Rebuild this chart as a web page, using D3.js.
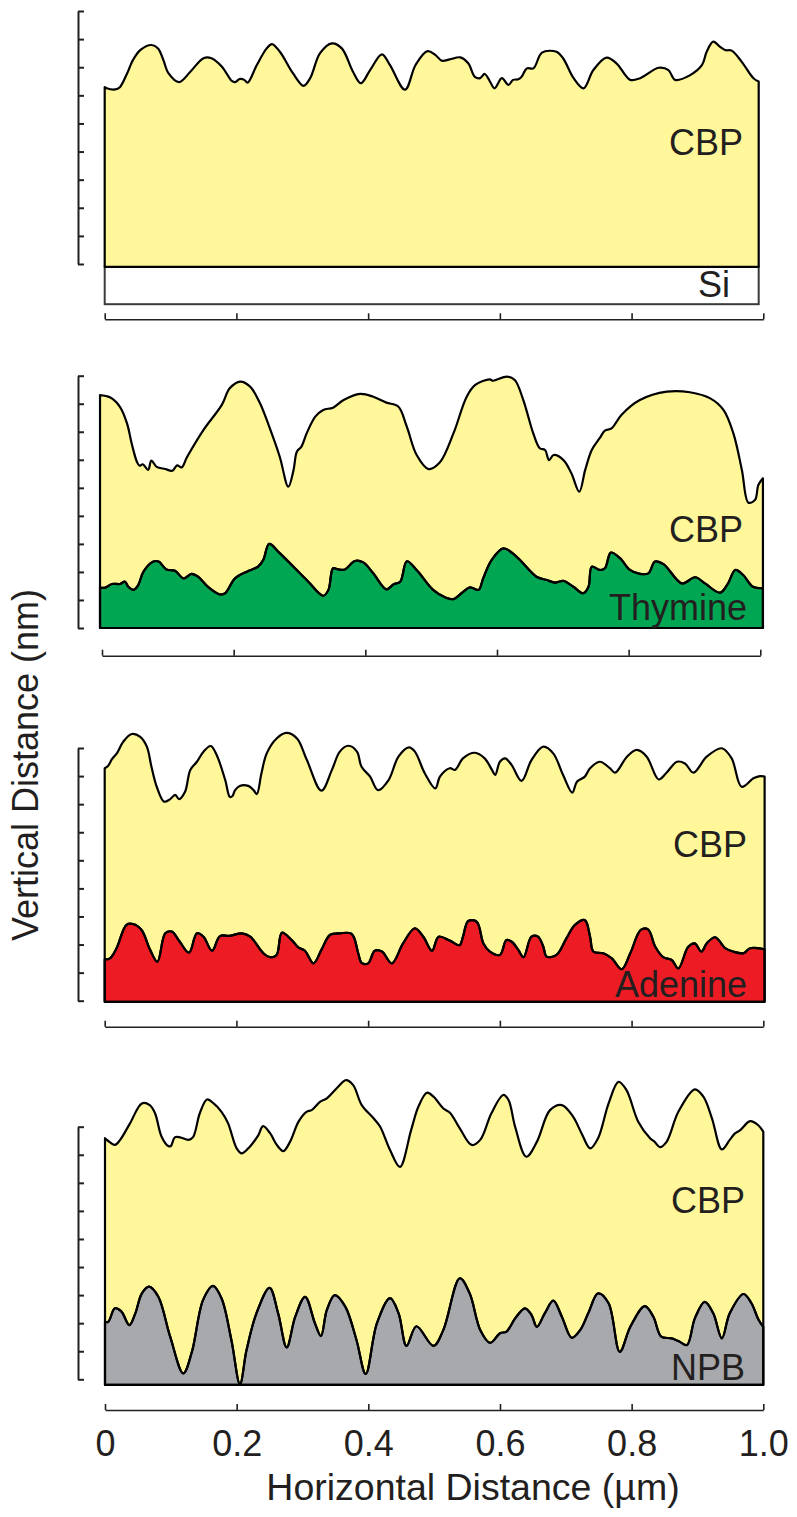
<!DOCTYPE html>
<html><head><meta charset="utf-8">
<script src="https://cdn.jsdelivr.net/npm/d3@7"></script>
<style>body{margin:0;background:#fff}svg{display:block}</style>
</head><body><svg id="c" width="797" height="1517"></svg>
<script>
// ---------- DATA ----------
const xTicks = [0, 0.2, 0.4, 0.6, 0.8, 1.0];
const xTickLabels = ["0", "0.2", "0.4", "0.6", "0.8", "1.0"];
const yTicks = [0, 1, 2, 3, 4, 5, 6, 7, 8, 9];
const layerNames = ["CBP", "Si", "Thymine", "Adenine", "NPB"];

// [horizontal distance (µm), vertical distance (nm)]
const cbpOnSi = [[0,6.29],[0.003,6.25],[0.016,6.21],[0.023,6.29],[0.034,6.78],[0.043,7.26],[0.054,7.61],[0.071,7.79],[0.081,7.67],[0.089,7.26],[0.097,6.78],[0.113,6.47],[0.130,6.84],[0.150,7.32],[0.162,7.32],[0.178,7.02],[0.193,6.51],[0.198,6.47],[0.205,6.58],[0.212,6.55],[0.217,6.45],[0.231,7.08],[0.246,7.67],[0.254,7.82],[0.266,7.55],[0.286,6.78],[0.302,6.34],[0.312,6.61],[0.327,7.50],[0.345,7.85],[0.360,7.67],[0.377,6.84],[0.389,6.43],[0.403,6.90],[0.421,7.46],[0.433,7.08],[0.456,6.20],[0.472,7.08],[0.490,7.57],[0.502,7.44],[0.512,7.23],[0.524,7.28],[0.540,7.35],[0.552,7.14],[0.562,6.66],[0.570,6.61],[0.577,6.76],[0.585,6.49],[0.592,6.25],[0.603,6.61],[0.613,6.37],[0.620,6.55],[0.628,6.57],[0.633,6.66],[0.641,6.96],[0.651,6.96],[0.664,7.52],[0.686,7.55],[0.696,7.32],[0.712,6.61],[0.727,6.25],[0.742,6.90],[0.762,7.34],[0.777,7.14],[0.798,6.55],[0.813,6.61],[0.841,6.98],[0.856,6.90],[0.866,6.55],[0.889,6.72],[0.907,7.08],[0.914,7.55],[0.924,7.91],[0.934,7.73],[0.942,7.61],[0.952,7.59],[0.967,7.20],[0.985,6.61],[0.993,6.49]];
const siLayer = [[0, -0.10], [0.993, -1.43]];

const cbpOnThymine = [[-0.003,8.31],[0.012,8.23],[0.027,7.90],[0.038,7.30],[0.045,6.59],[0.053,5.93],[0.057,5.79],[0.062,5.84],[0.070,5.64],[0.075,5.97],[0.083,5.75],[0.096,5.67],[0.107,5.61],[0.114,5.80],[0.121,5.73],[0.129,6.09],[0.154,7.06],[0.182,7.96],[0.194,8.55],[0.210,8.79],[0.225,8.61],[0.240,8.02],[0.255,7.12],[0.270,6.11],[0.283,5.04],[0.291,5.64],[0.296,6.29],[0.303,6.47],[0.311,6.95],[0.324,7.54],[0.336,7.78],[0.351,7.86],[0.367,8.13],[0.392,8.35],[0.412,8.25],[0.432,8.04],[0.450,7.90],[0.463,7.18],[0.478,6.17],[0.496,5.67],[0.513,5.90],[0.534,6.95],[0.554,8.25],[0.567,8.67],[0.589,8.87],[0.594,8.82],[0.615,8.97],[0.627,8.85],[0.640,8.13],[0.655,6.95],[0.665,6.41],[0.673,6.35],[0.679,5.99],[0.686,6.17],[0.701,5.99],[0.713,5.52],[0.725,4.86],[0.734,5.64],[0.744,6.35],[0.756,6.77],[0.764,7.04],[0.774,7.12],[0.789,7.60],[0.817,8.13],[0.858,8.43],[0.893,8.41],[0.924,8.19],[0.944,7.78],[0.959,6.95],[0.972,5.64],[0.982,4.47],[0.992,4.57],[0.997,5.10],[1.004,5.34]];
const thymine = [[-0.003,1.44],[0.005,1.44],[0.015,1.57],[0.027,1.57],[0.035,1.65],[0.040,1.47],[0.048,1.36],[0.055,1.53],[0.063,2.01],[0.078,2.37],[0.086,2.37],[0.098,2.09],[0.111,2.04],[0.124,1.77],[0.136,1.93],[0.146,1.83],[0.161,1.47],[0.179,1.20],[0.187,1.24],[0.202,1.77],[0.220,2.01],[0.237,2.19],[0.245,2.43],[0.254,3.00],[0.270,2.67],[0.311,1.71],[0.336,1.15],[0.344,1.36],[0.351,2.13],[0.359,2.09],[0.369,2.09],[0.384,2.39],[0.397,2.34],[0.412,1.95],[0.432,1.38],[0.443,1.56],[0.453,1.65],[0.463,2.38],[0.478,2.07],[0.503,1.36],[0.521,1.10],[0.534,1.03],[0.546,1.24],[0.559,1.45],[0.572,1.36],[0.579,1.77],[0.592,2.43],[0.610,2.84],[0.630,2.54],[0.660,1.83],[0.676,1.71],[0.688,1.62],[0.701,1.68],[0.716,1.47],[0.731,1.24],[0.739,1.47],[0.744,2.19],[0.756,2.07],[0.764,2.13],[0.773,2.69],[0.787,2.49],[0.802,2.07],[0.817,1.93],[0.830,1.95],[0.840,2.37],[0.853,2.28],[0.881,1.59],[0.901,1.81],[0.916,1.59],[0.939,1.26],[0.951,1.59],[0.962,2.07],[0.974,1.89],[0.989,1.47],[1.004,1.42]];

const cbpOnAdenine = [[0,8.28],[0.005,8.36],[0.011,8.60],[0.019,8.83],[0.028,9.22],[0.041,9.50],[0.054,9.40],[0.064,9.05],[0.071,8.33],[0.079,7.62],[0.090,7.09],[0.099,7.17],[0.107,7.33],[0.113,7.18],[0.122,7.44],[0.130,8.22],[0.140,8.51],[0.150,8.87],[0.161,9.07],[0.170,8.75],[0.183,7.86],[0.190,7.26],[0.194,7.29],[0.198,7.50],[0.205,7.65],[0.218,7.65],[0.226,7.50],[0.231,7.36],[0.238,8.10],[0.246,8.81],[0.261,9.34],[0.276,9.54],[0.292,9.34],[0.307,8.57],[0.329,7.48],[0.345,8.22],[0.357,8.87],[0.370,9.08],[0.383,8.87],[0.390,8.33],[0.403,7.98],[0.415,7.50],[0.431,7.86],[0.446,8.69],[0.462,9.02],[0.471,8.87],[0.486,8.10],[0.502,7.56],[0.509,7.98],[0.524,8.28],[0.532,8.22],[0.544,8.63],[0.562,8.83],[0.577,8.63],[0.588,8.22],[0.593,8.04],[0.600,8.51],[0.608,8.63],[0.618,8.39],[0.633,7.83],[0.648,8.57],[0.666,9.05],[0.681,8.81],[0.696,8.04],[0.710,7.41],[0.717,7.80],[0.729,7.98],[0.737,8.28],[0.752,8.51],[0.767,8.28],[0.775,8.12],[0.793,8.69],[0.808,8.93],[0.823,8.69],[0.841,7.88],[0.853,8.12],[0.869,8.51],[0.881,8.45],[0.894,8.12],[0.914,8.69],[0.937,8.99],[0.952,8.63],[0.967,7.62],[0.985,7.92],[0.995,8.00],[1.002,7.98]];
const adenine = [[0,1.47],[0.008,1.51],[0.018,1.87],[0.033,2.70],[0.043,2.73],[0.056,2.52],[0.069,1.81],[0.080,1.39],[0.092,2.40],[0.102,2.46],[0.114,2.10],[0.128,1.71],[0.140,2.40],[0.150,2.28],[0.163,1.78],[0.175,2.30],[0.190,2.31],[0.208,2.40],[0.221,2.28],[0.241,1.69],[0.251,1.55],[0.261,1.63],[0.269,2.42],[0.284,2.16],[0.294,1.90],[0.304,1.78],[0.317,1.33],[0.329,1.81],[0.342,2.34],[0.357,2.40],[0.375,2.38],[0.385,1.69],[0.390,1.35],[0.400,1.33],[0.410,1.78],[0.421,1.75],[0.436,1.33],[0.453,2.04],[0.471,2.58],[0.484,2.27],[0.497,1.78],[0.507,2.28],[0.524,2.14],[0.539,1.98],[0.544,2.28],[0.552,2.84],[0.565,2.81],[0.575,2.04],[0.585,1.75],[0.600,1.63],[0.610,2.16],[0.618,2.10],[0.628,1.81],[0.636,1.55],[0.648,2.28],[0.658,2.28],[0.666,1.92],[0.671,1.57],[0.686,1.63],[0.701,2.22],[0.714,2.70],[0.729,2.87],[0.737,2.28],[0.742,1.75],[0.757,1.69],[0.770,1.51],[0.785,1.12],[0.798,1.69],[0.814,2.52],[0.825,2.54],[0.836,1.92],[0.848,1.55],[0.861,1.45],[0.871,1.15],[0.886,1.92],[0.896,2.04],[0.906,1.75],[0.914,2.04],[0.927,2.26],[0.942,1.87],[0.954,1.75],[0.970,1.69],[0.980,1.87],[1.002,1.83]];

const cbpOnNPB = [[0,8.59],[0.005,8.49],[0.015,8.35],[0.023,8.53],[0.038,9.12],[0.056,9.83],[0.068,9.77],[0.076,9.48],[0.086,8.64],[0.096,8.31],[0.100,8.31],[0.106,8.62],[0.114,8.62],[0.127,8.53],[0.134,8.64],[0.144,9.48],[0.155,9.97],[0.165,9.83],[0.177,9.53],[0.187,9.12],[0.200,8.23],[0.208,8.05],[0.220,8.29],[0.233,8.70],[0.240,9.02],[0.251,8.76],[0.261,8.35],[0.271,8.13],[0.281,8.46],[0.294,9.18],[0.306,9.53],[0.314,9.59],[0.327,9.89],[0.337,10.01],[0.352,10.37],[0.366,10.66],[0.377,10.48],[0.390,9.77],[0.408,9.30],[0.418,9.00],[0.433,8.17],[0.448,7.57],[0.465,8.88],[0.476,9.71],[0.489,10.21],[0.499,10.07],[0.514,9.65],[0.524,9.50],[0.539,8.94],[0.557,8.35],[0.570,8.53],[0.587,9.48],[0.605,10.13],[0.613,9.95],[0.623,9.00],[0.640,7.93],[0.656,8.46],[0.676,9.59],[0.694,9.77],[0.711,9.36],[0.724,8.76],[0.737,8.23],[0.749,8.59],[0.765,9.83],[0.780,10.60],[0.792,10.31],[0.810,9.18],[0.828,8.59],[0.835,8.46],[0.843,8.27],[0.853,8.46],[0.871,9.53],[0.896,10.33],[0.909,10.07],[0.922,9.30],[0.937,8.19],[0.949,8.53],[0.957,8.76],[0.965,8.88],[0.980,9.20],[0.992,9.06],[1.000,8.82]];
const npb = [[0,2.05],[0.005,2.05],[0.015,2.53],[0.025,2.41],[0.037,1.93],[0.046,2.35],[0.056,3.06],[0.067,3.30],[0.081,2.94],[0.099,1.52],[0.119,0.21],[0.132,0.98],[0.149,2.83],[0.164,3.33],[0.177,2.89],[0.192,1.40],[0.205,-0.17],[0.215,1.04],[0.230,2.35],[0.250,3.26],[0.263,2.35],[0.276,1.14],[0.289,2.23],[0.304,2.94],[0.319,1.99],[0.328,1.54],[0.337,2.47],[0.349,3.00],[0.365,2.59],[0.382,1.40],[0.396,0.19],[0.413,1.99],[0.433,2.89],[0.446,2.35],[0.458,1.19],[0.473,1.89],[0.499,1.19],[0.514,1.76],[0.539,3.60],[0.554,3.06],[0.570,1.76],[0.585,1.30],[0.600,1.64],[0.610,1.70],[0.623,2.17],[0.638,2.53],[0.648,2.29],[0.656,1.87],[0.668,2.35],[0.681,2.80],[0.694,2.23],[0.709,1.48],[0.722,1.76],[0.734,2.35],[0.749,3.06],[0.765,2.71],[0.782,0.98],[0.798,1.87],[0.820,2.61],[0.833,2.23],[0.845,1.52],[0.861,1.46],[0.873,1.34],[0.884,1.22],[0.896,2.17],[0.911,2.76],[0.924,2.35],[0.937,1.46],[0.949,2.35],[0.970,3.04],[0.982,2.71],[0.993,2.11],[1.000,1.87]];

// base (bottom) of the film stack in each panel, nm
const panelBase = [-0.10, 0, -0.04, -0.20];

// ---------- DRAWING ----------
const FONT = "'Liberation Sans', Arial, Helvetica, sans-serif";
const INK = "#231f20";
const svg = d3.select("#c");

const panels = [
  {cbp: cbpOnSi, under: null, color: null, base: panelBase[0],
   xr: [104.7, 763.3], yr: [264, 11], axisY: 319.3,
   labels: [{t: layerNames[0], x: 743, y: 155}, {t: layerNames[1], x: 730, y: 297}]},
  {cbp: cbpOnThymine, under: thymine, color: "#00a651", base: panelBase[1],
   xr: [102, 760.3], yr: [628, 375.7], axisY: 655.7,
   labels: [{t: layerNames[0], x: 743, y: 542}, {t: layerNames[2], x: 747, y: 620}]},
  {cbp: cbpOnAdenine, under: adenine, color: "#ed1c24", base: panelBase[2],
   xr: [104.7, 763.3], yr: [1000.7, 748], axisY: 1026.7,
   labels: [{t: layerNames[0], x: 747, y: 857}, {t: layerNames[3], x: 747, y: 997}]},
  {cbp: cbpOnNPB, under: npb, color: "#a7a9ac", base: panelBase[3],
   xr: [105, 763.3], yr: [1379.3, 1126.7], axisY: 1410,
   labels: [{t: layerNames[0], x: 745, y: 1213}, {t: layerNames[4], x: 745, y: 1380}]}
];

const curve = d3.curveCatmullRom.alpha(0.5);

panels.forEach((p, i) => {
  const x = d3.scaleLinear().domain([0, 1]).range(p.xr);
  const y = d3.scaleLinear().domain([0, 9]).range(p.yr);
  const g = svg.append("g");

  if (i === 0) {
    g.append("rect")
      .attr("x", x(siLayer[0][0])).attr("y", y(siLayer[0][1]))
      .attr("width", x(siLayer[1][0]) - x(siLayer[0][0]))
      .attr("height", y(siLayer[1][1]) - y(siLayer[0][1]))
      .attr("fill", "#fff").attr("stroke", "#3a3a3a").attr("stroke-width", 2);
  }

  const area = d3.area().x(d => x(d[0])).y0(y(p.base)).y1(d => y(d[1])).curve(curve);
  const line = d3.line().x(d => x(d[0])).y(d => y(d[1])).curve(curve);

  g.append("path").attr("d", area(p.cbp)).attr("fill", "#fff799").attr("stroke", "none");
  if (p.under) {
    g.append("path").attr("d", area(p.under)).attr("fill", p.color).attr("stroke", "none");
  }
  g.append("path").attr("d", area(p.cbp)).attr("fill", "none")
    .attr("stroke", "#000").attr("stroke-width", 2.2).attr("stroke-linejoin", "round");
  if (p.under) {
    g.append("path").attr("d", line(p.under)).attr("fill", "none")
      .attr("stroke", "#000").attr("stroke-width", 2.2).attr("stroke-linejoin", "round");
    g.append("path").attr("d", area(p.under)).attr("fill", "none")
      .attr("stroke", "#000").attr("stroke-width", 2.2).attr("stroke-linejoin", "round");
  }

  p.labels.forEach(l => {
    g.append("text").attr("x", l.x).attr("y", l.y).attr("text-anchor", "end")
      .attr("font-family", FONT).attr("font-size", 36).attr("fill", INK).text(l.t);
  });

  const ya = d3.axisLeft(y).tickValues(yTicks).tickSizeInner(-6).tickSizeOuter(0).tickFormat("");
  const yg = g.append("g").attr("transform", "translate(78,0)").call(ya);
  yg.select(".domain").attr("stroke", INK).attr("stroke-width", 2);
  yg.selectAll(".tick line").attr("stroke", INK).attr("stroke-width", 2);

  const last = i === panels.length - 1;
  const xa = d3.axisBottom(x).tickValues(xTicks).tickSizeInner(-6).tickSizeOuter(0)
    .tickPadding(20).tickFormat((d, k) => last ? xTickLabels[k] : "");
  const xg = g.append("g").attr("transform", `translate(0,${p.axisY})`).call(xa);
  xg.select(".domain").attr("stroke", INK).attr("stroke-width", 1.6);
  xg.selectAll(".tick line").attr("stroke", INK).attr("stroke-width", 1.6);
  xg.selectAll(".tick text").attr("font-family", FONT).attr("font-size", 36).attr("fill", INK);
});

svg.append("text").attr("x", 473).attr("y", 1500).attr("text-anchor", "middle")
  .attr("font-family", FONT).attr("font-size", 37.5).attr("fill", INK)
  .text("Horizontal Distance (µm)");
svg.append("text").attr("transform", "translate(38,765) rotate(-90)").attr("text-anchor", "middle")
  .attr("font-family", FONT).attr("font-size", 36).attr("fill", INK)
  .text("Vertical Distance (nm)");
</script></body></html>
